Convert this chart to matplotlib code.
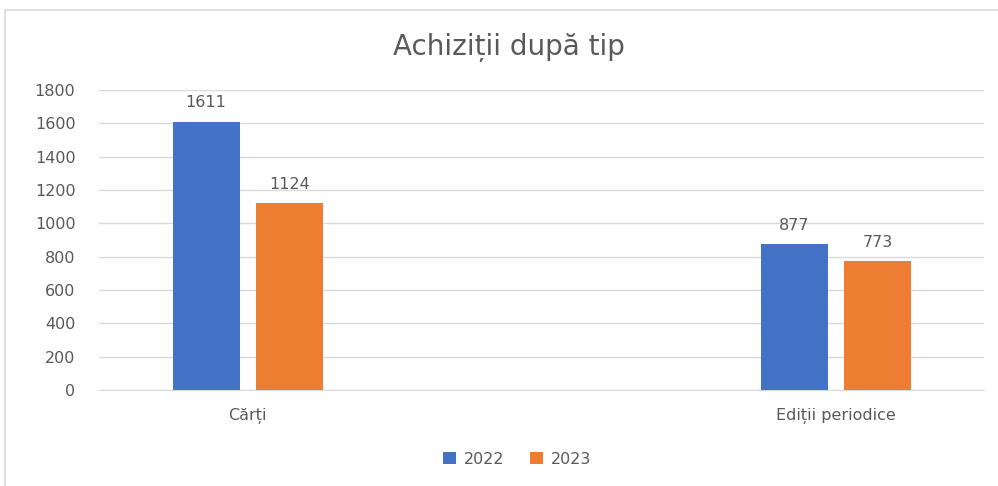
import matplotlib.pyplot as plt
from matplotlib.patches import Rectangle
import numpy as np

plt.rcParams['font.family'] = ['DejaVu Sans']

categories = ["Cărți", "Ediții periodice"]
years = ["2022", "2023"]
values_2022 = [1611, 877]
values_2023 = [1124, 773]
colors = ["#4472C4", "#ED7D31"]
text_color = "#595959"

fig = plt.figure(figsize=(9.98, 4.86), dpi=100)

# light chart border, cut off at the right and bottom like the screenshot
fig.patches.append(Rectangle((5 / 998, -0.1), 1.1, 1.1 - 10 / 486,
                             transform=fig.transFigure, fill=False,
                             edgecolor="#d9d9d9", linewidth=1.2))

ax = fig.add_axes([99 / 998, 1 - 390 / 486, 885 / 998, 300 / 486])

x = np.arange(len(categories))
width = 0.114
offset = 0.071
for vals, year, color, sign in zip([values_2022, values_2023], years, colors, [-1, 1]):
    bars = ax.bar(x + sign * offset, vals, width, color=color, label=year, zorder=3)
    for b, v in zip(bars, vals):
        ax.annotate(str(v), (b.get_x() + b.get_width() / 2, v), xytext=(0, 8),
                    textcoords="offset points", ha="center", va="bottom",
                    fontsize=11.5, color=text_color)

ax.set_xlim(-0.253, 1.252)
ax.set_ylim(0, 1800)
ax.set_yticks(range(0, 1801, 200))
ax.set_xticks(x)
ax.set_xticklabels(categories)
ax.tick_params(axis="both", length=0, labelsize=11.5, colors=text_color)
ax.tick_params(axis="x", pad=13)
ax.tick_params(axis="y", pad=17)
ax.grid(axis="y", color="#d9d9d9", linewidth=1, zorder=0)
for side in ["top", "right", "left"]:
    ax.spines[side].set_visible(False)
ax.spines["bottom"].set_color("#d9d9d9")

fig.text(0.51, 1 - 48 / 486, "Achiziții după tip", ha="center", va="center",
         fontsize=20, color=text_color)

fig.legend(loc="center", bbox_to_anchor=(0.518, 1 - 459 / 486), ncol=2, frameon=False,
           fontsize=11.5, labelcolor=text_color, handlelength=0.8, handleheight=0.8,
           handletextpad=0.5, columnspacing=1.6)

fig.savefig("out.png", dpi=100, facecolor="white")
